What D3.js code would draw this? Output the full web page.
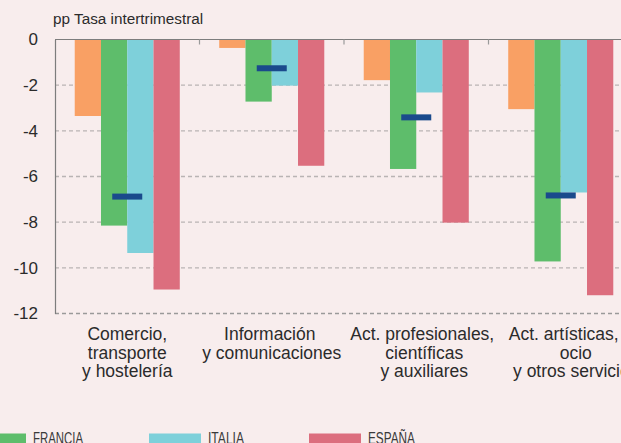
<!DOCTYPE html>
<html>
<head>
<meta charset="utf-8">
<script src="https://cdn.jsdelivr.net/npm/d3@7/dist/d3.min.js"></script>
<style>
html, body { margin: 0; padding: 0; background: #f8eded; overflow: hidden; }
svg { display: block; font-family: "Liberation Sans", Arial, sans-serif; }
</style>
</head>
<body>
<svg class="chart" width="621" height="443"></svg>
<script>
// sectors (each label split in lines)
var categories = [
	["Comercio,", "transporte", "y hostelería"],
	["Información", "y comunicaciones"],
	["Act. profesionales,", "científicas", "y auxiliares"],
	["Act. artísticas,", "ocio", "y otros servicios"]
];
var seriesNames = ["Otros", "FRANCIA", "ITALIA", "ESPAÑA"];
var otros   = [-3.35, -0.37, -1.78, -3.05];
var francia = [-8.15, -2.72, -5.67, -9.72];
var italia  = [-9.35, -2.02, -2.32, -6.70];
var espana  = [-10.95, -5.53, -8.02, -11.2];
var media   = [-6.88, -1.26, -3.41, -6.83];
var yTicks  = [0, -2, -4, -6, -8, -10, -12];

var colors = ["#f9a064", "#5ebd6b", "#7ed0da", "#dc6e7e"];
var series = [otros, francia, italia, espana];

var svg = d3.select(".chart");

var mLeft = 55, mTop = 39.5, mBottom = 313.5, step = 144.5;

var x0 = d3.scaleBand()
	.domain(d3.range(categories.length))
	.range([mLeft, mLeft + step * categories.length])
	.paddingInner(0.273)
	.paddingOuter(0.1365);

var x1 = d3.scaleBand()
	.domain(d3.range(series.length))
	.range([0, x0.bandwidth()]);

var y = d3.scaleLinear().domain([-12, 0]).range([mBottom, mTop]);

// grid
svg.append("g")
	.selectAll("line")
	.data(yTicks.filter(function(d) { return d !== 0; }))
	.enter().append("line")
	.attr("x1", mLeft).attr("x2", 621)
	.attr("y1", function(d) { return y(d); })
	.attr("y2", function(d) { return y(d); })
	.attr("stroke", function(d) { return d === -12 ? "#9a9a9a" : "#b9b4b4"; })
	.attr("stroke-width", 1.3)
	.attr("stroke-dasharray", "4,3");

// bars
var groups = svg.append("g")
	.selectAll("g")
	.data(categories)
	.enter().append("g")
	.attr("transform", function(d, i) { return "translate(" + x0(i) + ",0)"; });

groups.selectAll("rect")
	.data(function(d, i) { return series.map(function(s, k) { return {k: k, v: s[i]}; }); })
	.enter().append("rect")
	.attr("x", function(d) { return x1(d.k); })
	.attr("width", x1.bandwidth())
	.attr("y", y(0))
	.attr("height", function(d) { return y(d.v) - y(0); })
	.attr("fill", function(d) { return colors[d.k]; });

// average markers
svg.append("g")
	.selectAll("rect")
	.data(media)
	.enter().append("rect")
	.attr("x", function(d, i) { return x0(i) + x0.bandwidth() / 2 - 15; })
	.attr("width", 30)
	.attr("y", function(d) { return y(d) - 3; })
	.attr("height", 6)
	.attr("fill", "#1a4a8c");

// axes
var yAxis = d3.axisLeft(y).tickValues(yTicks).tickSize(0).tickPadding(17)
	.tickFormat(function(d) { return String(d); });
var ga = svg.append("g").attr("transform", "translate(" + mLeft + ",0)").call(yAxis);
ga.select(".domain").attr("stroke", "#7d7d7d").attr("stroke-width", 1.2);
ga.selectAll("text")
	.attr("font-size", 17)
	.attr("font-family", "Liberation Sans, Arial, sans-serif")
	.attr("fill", "#2b2b2b");

svg.append("line")
	.attr("x1", mLeft).attr("x2", 621)
	.attr("y1", y(0)).attr("y2", y(0))
	.attr("stroke", "#7d7d7d").attr("stroke-width", 1.2);

svg.append("g")
	.selectAll("line")
	.data(d3.range(1, categories.length))
	.enter().append("line")
	.attr("x1", function(d) { return mLeft + d * step; })
	.attr("x2", function(d) { return mLeft + d * step; })
	.attr("y1", y(0)).attr("y2", y(0) + 5)
	.attr("stroke", "#9a9a9a").attr("stroke-width", 1.2);

// category labels (lines are not all centred on the band in the original)
var labelShift = [[0, 0, 0], [-2, 0], [6, 8, 8], [3, 15, 15]];
var labels = svg.append("g")
	.selectAll("text")
	.data(categories)
	.enter().append("text")
	.attr("text-anchor", "middle")
	.attr("font-size", 17.5)
	.attr("fill", "#2b2b2b");

labels.selectAll("tspan")
	.data(function(d, i) { return d.map(function(t, j) { return {t: t, i: i, j: j}; }); })
	.enter().append("tspan")
	.attr("x", function(d) { return x0(d.i) + x0.bandwidth() / 2 + labelShift[d.i][d.j]; })
	.attr("y", function(d) { return 340 + d.j * 18.7; })
	.text(function(d) { return d.t; });

// title
svg.append("text")
	.attr("x", 53)
	.attr("y", 23.5)
	.attr("font-size", 15.3)
	.attr("fill", "#2b2b2b")
	.text("pp Tasa intertrimestral");

// legend (partly off the picture)
var legendX = [-26, 149, 309];
var legendW = [50, 36, 47];
var legend = svg.append("g")
	.selectAll("g")
	.data(seriesNames.slice(1))
	.enter().append("g")
	.attr("transform", function(d, i) { return "translate(" + legendX[i] + ",0)"; });

legend.append("rect")
	.attr("x", 0).attr("y", 433.5)
	.attr("width", 52).attr("height", 12)
	.attr("fill", function(d, i) { return colors[i + 1]; });

legend.append("text")
	.attr("x", 59)
	.attr("y", 443.5)
	.attr("font-size", 16)
	.attr("font-family", "Liberation Sans Narrow, Liberation Sans, Arial, sans-serif")
	.attr("textLength", function(d, i) { return legendW[i]; })
	.attr("lengthAdjust", "spacingAndGlyphs")
	.attr("fill", "#3a3a3a")
	.text(function(d) { return d; });
</script>
</body>
</html>
